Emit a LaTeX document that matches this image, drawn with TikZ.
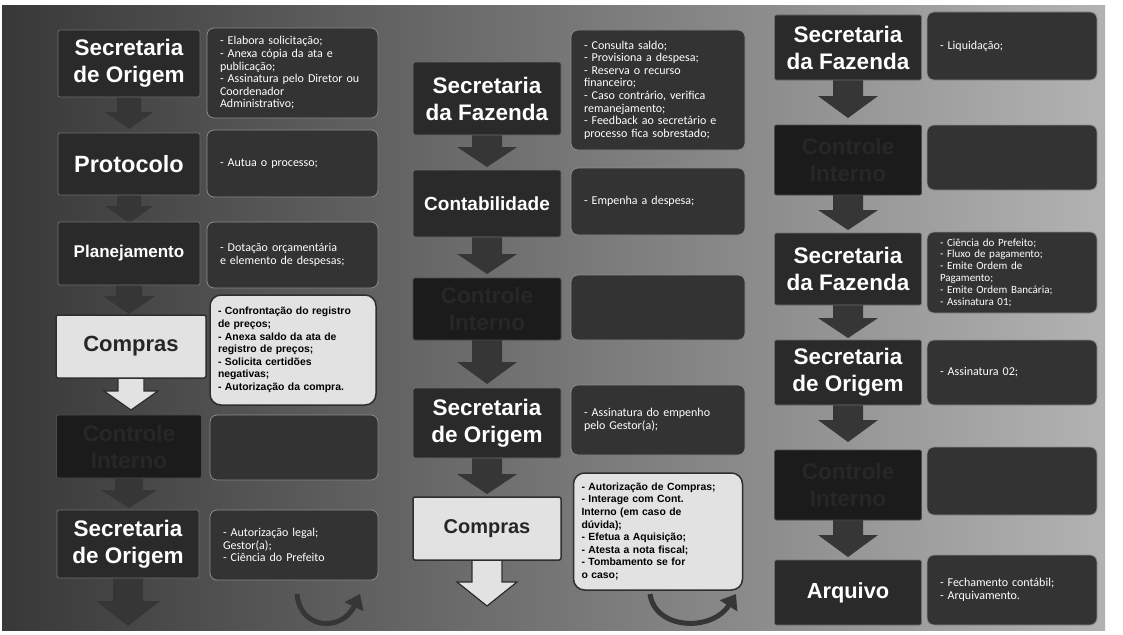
\documentclass[tikz,border=0pt]{standalone}
\usepackage{fontspec}
\setmainfont{Liberation Sans}
\newfontfamily\bodyf{Carlito}
\usetikzlibrary{arrows.meta}
\definecolor{tfill}{HTML}{2A2A2A}
\definecolor{tdraw}{HTML}{6E6E6E}
\definecolor{dfill}{HTML}{333333}
\definecolor{ddraw}{HTML}{8C8C8C}
\definecolor{lfill}{HTML}{E2E2E2}
\definecolor{ldraw}{HTML}{2E2E2E}
\definecolor{ofill}{HTML}{1B1B1B}
\definecolor{otext}{HTML}{272727}
\definecolor{arrc}{HTML}{363636}
\newcommand{\barr}[7]{\path[#7] (#1-#4,#2) -- (#1+#4,#2) -- (#1+#4,#3-#6) -- (#1+#5,#3-#6) -- (#1,#3) -- (#1-#5,#3-#6) -- (#1-#4,#3-#6) -- cycle;}
\tikzset{
  tbox/.style={rounded corners=2, fill=tfill, draw=tdraw, line width=0.8, text=white,
    font=\bfseries\fontsize{22.5}{27}\selectfont, align=center, inner sep=0},
  ltbox/.style={tbox, fill=lfill, draw=ldraw, line width=1.5, text=black!85},
  obox/.style={tbox, fill=ofill, draw=black!70, text=otext},
  dbox/.style={rounded corners=7, fill=dfill, draw=ddraw, line width=0.8, text=white,
    font=\bodyf\fontsize{12}{12.6}\selectfont, align=left, inner xsep=13, inner ysep=3},
  lbox/.style={rounded corners=11, fill=lfill, draw=ldraw, line width=1.5, text=black,
    font=\bfseries\fontsize{10.4}{12.6}\selectfont, align=left, inner xsep=8, inner ysep=3},
  darr/.style={fill=arrc},
  larr/.style={fill=lfill, draw=ldraw, line width=1.2},
  curv/.style={draw=arrc, line width=5, -{Triangle[length=14, width=20]}}
}
\begin{document}
\begin{tikzpicture}[x=1pt, y=-1pt]
\useasboundingbox (0,0) rectangle (1123,634);
\fill[white] (0,0) rectangle (1123,634);
\shade[left color=black!78, middle color=black!48, right color=black!30] (2,6) rectangle (1105,630);

% block arrows (drawn first, tails hidden under boxes)
\barr{129}{95}{129}{12}{24}{17}{darr}
\barr{129}{193}{223}{12}{24}{17}{darr}
\barr{129}{283}{314}{13}{26}{18}{darr}
\barr{131}{377}{410}{13}{27}{19}{larr}
\barr{129}{476}{508}{14}{28}{18}{darr}
\barr{128}{576}{626}{15}{32}{25}{darr}
\barr{487}{133}{167}{15}{30}{20}{darr}
\barr{487}{235}{274}{15}{30}{20}{darr}
\barr{487}{338}{384}{15}{30}{22}{darr}
\barr{487}{456}{494}{15}{30}{20}{darr}
\barr{487}{559}{606}{15}{30}{24}{larr}
\barr{848}{78}{118}{15}{30}{22}{darr}
\barr{848}{193}{230}{15}{30}{20}{darr}
\barr{848}{303}{338}{15}{30}{20}{darr}
\barr{848}{403}{442}{15}{30}{22}{darr}
\barr{848}{518}{557}{15}{30}{22}{darr}

% column 1
\node[tbox, minimum width=142, minimum height=67] (t11) at (129,63.5) {Secretaria\\de Origem};
\node[tbox, minimum width=142, minimum height=62, font=\bfseries\fontsize{23.5}{27}\selectfont] (t12) at (129,164) {Protocolo};
\node[tbox, minimum width=142, minimum height=63, font=\bfseries\fontsize{17}{20}\selectfont] (t13) at (129,253.5) {Planejamento};
\node[ltbox, minimum width=150, minimum height=63, font=\bfseries\fontsize{22}{26}\selectfont] (t14) at (131,346.5) {Compras};
\node[obox, minimum width=145, minimum height=63] (t15) at (129,446.5) {Controle\\Interno};
\node[tbox, minimum width=142, minimum height=68] (t16) at (128,544) {Secretaria\\de Origem};

\node[dbox, minimum width=171, minimum height=90, text width=145] (d11) at (292.5,73) {- Elabora solicitação;\\- Anexa cópia da ata e\\publicação;\\- Assinatura pelo Diretor ou\\Coordenador\\Administrativo;};
\node[dbox, minimum width=171, minimum height=67, text width=145] (d12) at (292.5,163.5) {- Autua o processo;};
\node[dbox, minimum width=171, minimum height=66, text width=145] (d13) at (292.5,255) {- Dotação orçamentária\\e elemento de despesas;};
\node[lbox, minimum width=166, minimum height=110, text width=150] (d14) at (293,350) {- Confrontação do registro\\de preços;\\- Anexa saldo da ata de\\registro de preços;\\- Solicita certidões\\negativas;\\- Autorização da compra.};
\node[dbox, minimum width=168, minimum height=65, text width=142] (d15) at (294,447.5) {};
\node[dbox, minimum width=168, minimum height=70, text width=142] (d16) at (294,545) {- Autorização legal;\\Gestor(a);\\- Ciência do Prefeito};

% column 2
\node[tbox, minimum width=148, minimum height=73] (t21) at (487,98.5) {Secretaria\\da Fazenda};
\node[tbox, minimum width=148, minimum height=67, font=\bfseries\fontsize{19}{22}\selectfont] (t22) at (487,203.5) {Contabilidade};
\node[obox, minimum width=148, minimum height=62] (t23) at (487,309) {Controle\\Interno};
\node[tbox, minimum width=148, minimum height=70] (t24) at (487,423) {Secretaria\\de Origem};
\node[ltbox, minimum width=148, minimum height=63, font=\bfseries\fontsize{20}{24}\selectfont] (t25) at (487,528.5) {Compras};

\node[dbox, minimum width=174, minimum height=120, text width=148] (d21) at (658,90) {- Consulta saldo;\\- Provisiona a despesa;\\- Reserva o recurso\\financeiro;\\- Caso contrário, verifica\\remanejamento;\\- Feedback ao secretário e\\processo fica sobrestado;};
\node[dbox, minimum width=174, minimum height=67, text width=148] (d22) at (658,201.5) {- Empenha a despesa;};
\node[dbox, minimum width=174, minimum height=65, text width=148] (d23) at (658,307.5) {};
\node[dbox, minimum width=174, minimum height=70, text width=148] (d24) at (658,420) {- Assinatura do empenho\\pelo Gestor(a);};
\node[lbox, minimum width=169, minimum height=117, text width=153] (d25) at (658,531.5) {- Autorização de Compras;\\- Interage com Cont.\\Interno (em caso de\\dúvida);\\- Efetua a Aquisição;\\- Atesta a nota fiscal;\\- Tombamento se for\\o caso;};

% column 3
\node[tbox, minimum width=147, minimum height=65] (t31) at (848,47.5) {Secretaria\\da Fazenda};
\node[obox, minimum width=147, minimum height=70] (t32) at (848,160) {Controle\\Interno};
\node[tbox, minimum width=147, minimum height=72] (t33) at (848,269) {Secretaria\\da Fazenda};
\node[tbox, minimum width=147, minimum height=65] (t34) at (848,372.5) {Secretaria\\de Origem};
\node[obox, minimum width=147, minimum height=70] (t35) at (848,485) {Controle\\Interno};
\node[tbox, minimum width=147, minimum height=65, font=\bfseries\fontsize{21.8}{26}\selectfont] (t36) at (848,592.5) {Arquivo};

\node[dbox, minimum width=170, minimum height=68, text width=144] (d31) at (1012,46) {- Liquidação;};
\node[dbox, minimum width=170, minimum height=65, text width=144] (d32) at (1012,157.5) {};
\node[dbox, minimum width=170, minimum height=81, text width=144, font=\bodyf\fontsize{11}{11.8}\selectfont] (d33) at (1012,272.5) {- Ciência do Prefeito;\\- Fluxo de pagamento;\\- Emite Ordem de\\Pagamento;\\- Emite Ordem Bancária;\\- Assinatura 01;};
\node[dbox, minimum width=170, minimum height=65, text width=144] (d34) at (1012,372.5) {- Assinatura 02;};
\node[dbox, minimum width=170, minimum height=68, text width=144] (d35) at (1012,481) {};
\node[dbox, minimum width=170, minimum height=70, text width=144] (d36) at (1012,590) {- Fechamento contábil;\\- Arquivamento.};

% curved return arrows
\coordinate (c1a) at (297,594);
\coordinate (c1b) at (360,594);
\coordinate (c2a) at (650,594);
\coordinate (c2b) at (736,594);
\draw[curv] (c1a) .. controls (300,630) and (342,632) .. (c1b);
\draw[curv] (c2a) .. controls (655,630) and (712,632) .. (c2b);
\end{tikzpicture}
\end{document}
